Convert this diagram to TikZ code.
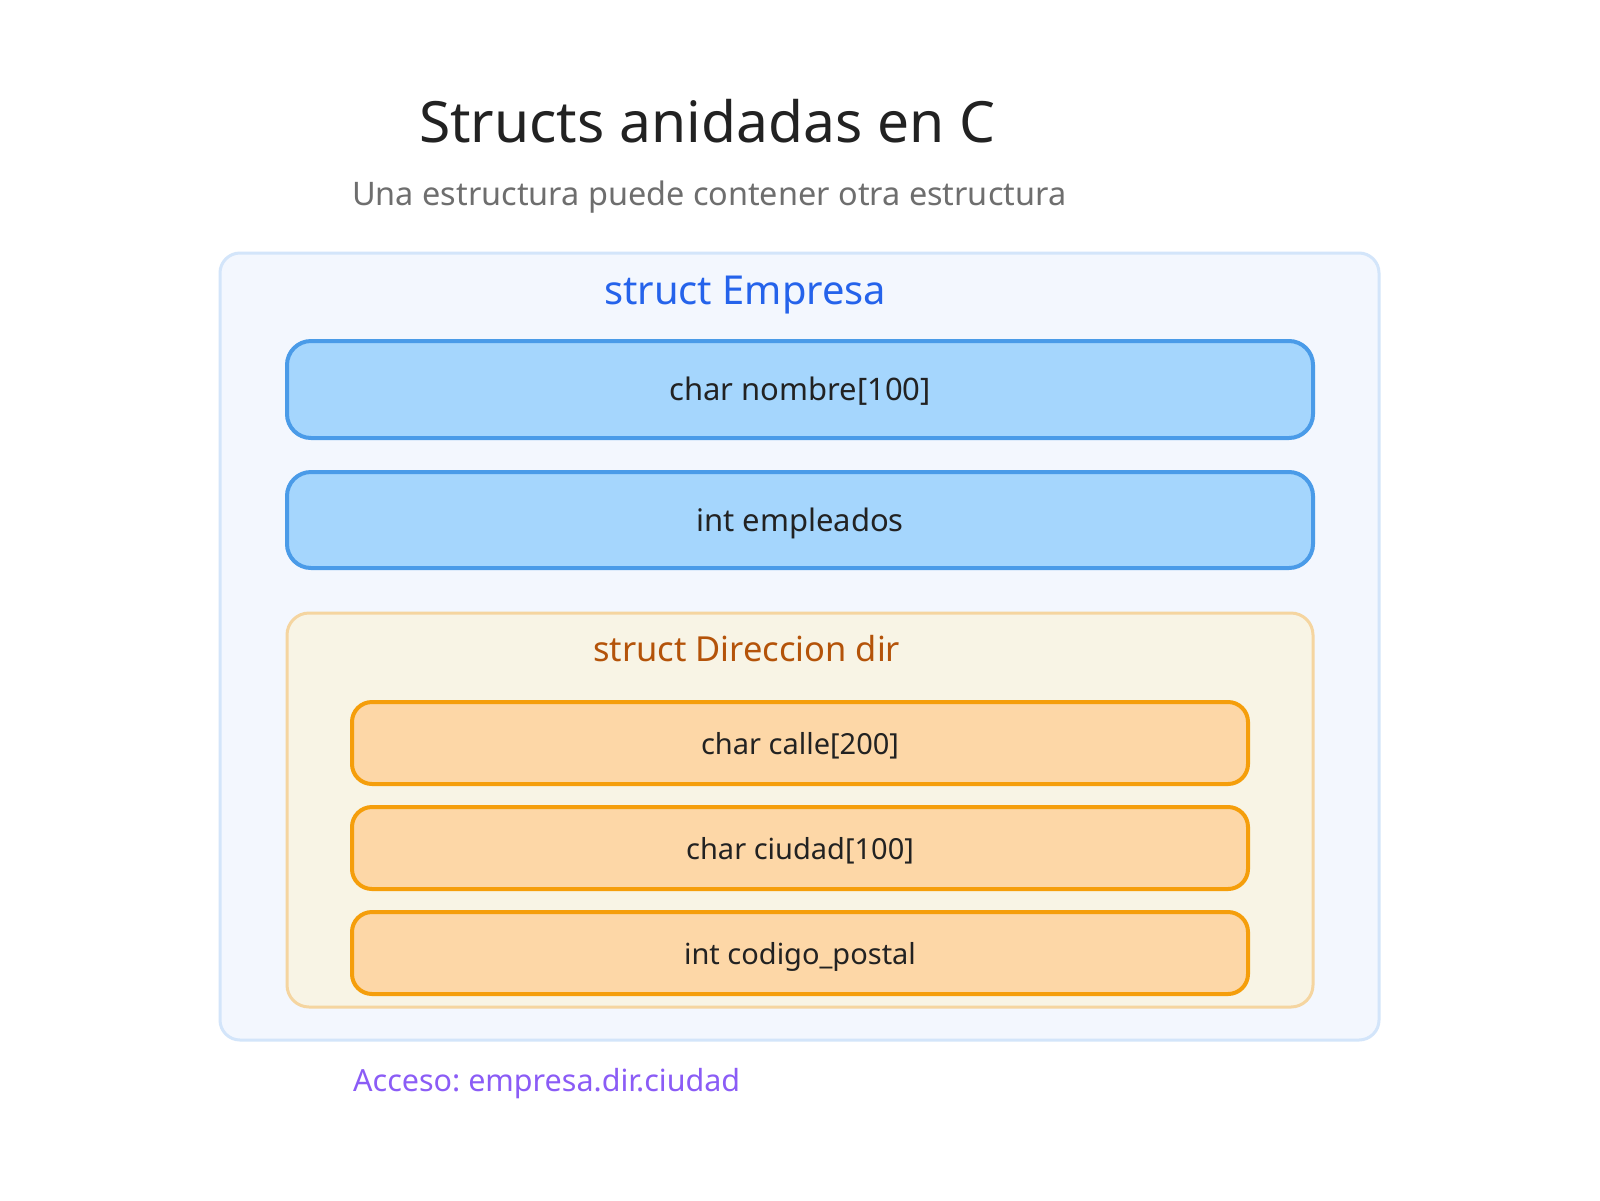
\documentclass[tikz,border=0pt]{standalone}
\usepackage{fontspec}
\setmainfont{Noto Sans}
\usepackage{graphicx}
\frenchspacing
\definecolor{titlec}{HTML}{222222}
\definecolor{subc}{HTML}{6E6E6E}
\definecolor{outerfill}{HTML}{F3F7FE}
\definecolor{outerdraw}{HTML}{D3E5FA}
\definecolor{empc}{HTML}{2563EB}
\definecolor{bluefill}{HTML}{A5D6FD}
\definecolor{bluedraw}{HTML}{4A9BE8}
\definecolor{innerfill}{HTML}{F8F4E5}
\definecolor{innerdraw}{HTML}{F5D5A0}
\definecolor{orfill}{HTML}{FDD7A7}
\definecolor{ordraw}{HTML}{F59E0B}
\definecolor{dirc}{HTML}{B45309}
\definecolor{accc}{HTML}{8B5CF6}
\newcommand\fitw[2]{\resizebox{#1}{!}{\fontsize{40}{48}\selectfont #2}}
\tikzset{
  txt/.style={inner sep=0pt, anchor=base west},
  outerbox/.style={draw=outerdraw, fill=outerfill, line width=3pt, rounded corners=20pt, inner sep=0pt},
  innerbox/.style={draw=innerdraw, fill=innerfill, line width=3pt, rounded corners=22pt, inner sep=0pt},
  bluebox/.style={draw=bluedraw, fill=bluefill, line width=4pt, rounded corners=24pt, inner sep=0pt,
    minimum width=1026pt, minimum height=97pt, text height=22pt, text depth=0pt,
    text=titlec, font=\fontsize{31}{37}\selectfont},
  orbox/.style={draw=ordraw, fill=orfill, line width=4pt, rounded corners=20pt, inner sep=0pt,
    minimum width=896pt, minimum height=82pt, text height=22pt, text depth=0pt,
    text=titlec, font=\fontsize{29}{35}\selectfont},
}
\begin{document}
\begin{tikzpicture}[x=1pt,y=-1pt]
\useasboundingbox (0,0) rectangle (1600,1200);
\fill[white] (0,0) rectangle (1600,1200);
\node[txt, text=titlec] (title) at (419,142) {\fitw{576pt}{Structs anidadas en C}};
\node[txt, text=subc] (subtitle) at (352,205) {\fitw{714pt}{Una estructura puede contener otra estructura}};
\node[outerbox, minimum width=1159pt, minimum height=787pt] (empresa) at (799.5,646.5) {};
\node[txt, text=empc] (emplabel) at (604,304) {\fitw{282pt}{struct Empresa}};
\node[bluebox] (nombre) at (800,389.5) {char nombre[100]};
\node[bluebox, minimum height=96pt] (empleados) at (800,520) {int empleados};
\node[innerbox, minimum width=1026pt, minimum height=394pt] (dir) at (800,810) {};
\node[txt, text=dirc] (dirlabel) at (593,661) {\fitw{307pt}{struct Direccion dir}};
\node[orbox] (calle) at (800,743) {char calle[200]};
\node[orbox] (ciudad) at (800,848) {char ciudad[100]};
\node[orbox] (cp) at (800,953) {int codigo\_postal};
\node[txt, text=accc] (acceso) at (353,1091) {\fitw{387pt}{Acceso: empresa.dir.ciudad}};
\end{tikzpicture}
\end{document}
